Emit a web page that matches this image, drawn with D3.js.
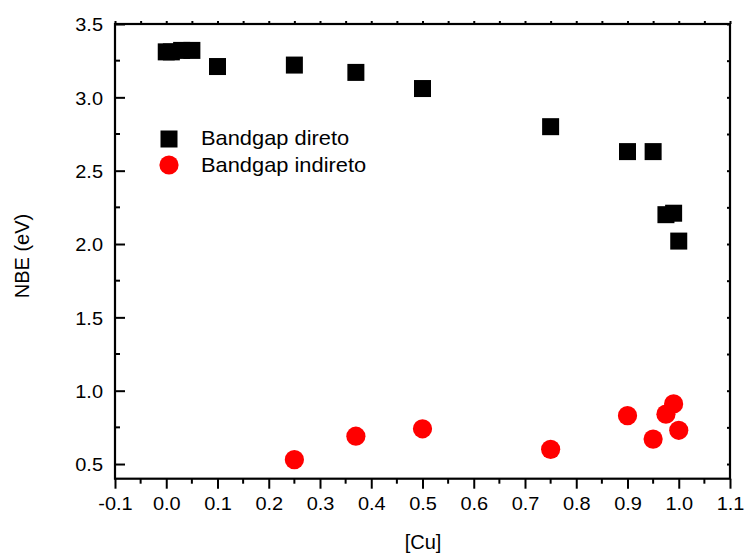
<!DOCTYPE html>
<html>
<head>
<meta charset="utf-8">
<script src="https://cdn.jsdelivr.net/npm/d3@7"></script>
<style>
  html, body { margin: 0; padding: 0; background: #fff; }
  text { font-family: "Liberation Sans", Arial, sans-serif; fill: #000; }
</style>
</head>
<body>
<svg id="chart" width="745" height="556"></svg>
<script>
// ---- data ----
const cuDireto  = [0, 0.01, 0.03, 0.05, 0.1, 0.25, 0.37, 0.5, 0.75, 0.9, 0.95, 0.975, 0.99, 1.0];
const nbeDireto = [3.31, 3.31, 3.32, 3.32, 3.21, 3.22, 3.17, 3.06, 2.80, 2.63, 2.63, 2.20, 2.21, 2.02];
const cuIndireto  = [0.25, 0.37, 0.5, 0.75, 0.9, 0.95, 0.975, 0.99, 1.0];
const nbeIndireto = [0.53, 0.69, 0.74, 0.60, 0.83, 0.67, 0.84, 0.91, 0.73];
const xTicks = [-0.1, 0.0, 0.1, 0.2, 0.3, 0.4, 0.5, 0.6, 0.7, 0.8, 0.9, 1.0, 1.1];
const yTicks = [0.5, 1.0, 1.5, 2.0, 2.5, 3.0, 3.5];
const seriesNames = ["Bandgap direto", "Bandgap indireto"];
const xTitle = "[Cu]";
const yTitle = "NBE (eV)";

// ---- layout ----
const L = 115, R = 730, T = 24, B = 478.7;
const svg = d3.select("#chart");
const x = d3.scaleLinear().domain([-0.1, 1.1]).range([L, R]);
const y = d3.scaleLinear().domain([0.4, 3.5]).range([B, T]);
const fmt = d => d3.format(".1f")(d).replace("\u2212", "-");

function stretch(sel, k) {
  sel.each(function() {
    const len = this.getComputedTextLength();
    this.setAttribute("textLength", len * k);
    this.setAttribute("lengthAdjust", "spacingAndGlyphs");
  });
}

const xMinor = d3.range(-0.05, 1.1, 0.1);
const yMinor = d3.range(0.75, 3.5, 0.5);

// bottom axis: ticks outward
const gx = svg.append("g").attr("transform", `translate(0,${B})`)
  .call(d3.axisBottom(x).tickValues(xTicks).tickFormat(fmt).tickSize(10).tickSizeOuter(0));
gx.selectAll(".tick text").attr("font-size", 19).attr("y", 31.3).attr("dy", 0);
gx.append("g").selectAll("line").data(xMinor).join("line")
  .attr("x1", d => x(d)).attr("x2", d => x(d)).attr("y1", 0).attr("y2", 5);

// left axis: ticks inward
const gy = svg.append("g").attr("transform", `translate(${L},0)`)
  .call(d3.axisLeft(y).tickValues(yTicks).tickFormat(fmt).tickSize(-10).tickSizeOuter(0).tickPadding(12));
gy.selectAll(".tick text").attr("font-size", 19).attr("dy", "0.36em");
gy.append("g").selectAll("line").data(yMinor).join("line")
  .attr("x1", 0).attr("x2", 5).attr("y1", d => y(d)).attr("y2", d => y(d));

// top axis: tiny ticks
svg.append("g").attr("transform", `translate(0,${T})`)
  .call(d3.axisTop(x).tickValues(xTicks.concat(xMinor)).tickFormat("").tickSize(3).tickSizeOuter(0));
// right axis: tiny inward ticks
svg.append("g").attr("transform", `translate(${R},0)`)
  .call(d3.axisRight(y).tickValues(yTicks.concat(yMinor)).tickFormat("").tickSize(-3).tickSizeOuter(0));

svg.selectAll(".domain").remove();
svg.selectAll("g line").attr("stroke", "#000").attr("stroke-width", 2);

// frame
svg.append("rect").attr("x", L).attr("y", T).attr("width", R - L).attr("height", B - T)
  .attr("fill", "none").attr("stroke", "#000").attr("stroke-width", 2.2);

stretch(gx.selectAll(".tick text"), 1.05);
stretch(gy.selectAll(".tick text"), 1.05);

// data marks
const S = 17;
svg.append("g").selectAll("circle").data(cuIndireto).join("circle")
  .attr("cx", d => x(d)).attr("cy", (d, i) => y(nbeIndireto[i])).attr("r", 9.6).attr("fill", "#ff0000");
svg.append("g").selectAll("rect").data(cuDireto).join("rect")
  .attr("x", d => x(d) - S / 2).attr("y", (d, i) => y(nbeDireto[i]) - S / 2)
  .attr("width", S).attr("height", S).attr("fill", "#000");

// legend
const lg = svg.append("g");
lg.append("rect").attr("x", 169 - S / 2).attr("y", 139 - S / 2).attr("width", S).attr("height", S).attr("fill", "#000");
lg.append("circle").attr("cx", 169).attr("cy", 165).attr("r", 9.6).attr("fill", "#ff0000");
const lt = lg.selectAll("text").data(seriesNames).join("text")
  .attr("x", 201).attr("y", (d, i) => 145 + i * 26.5).attr("font-size", 21).text(d => d);
stretch(lt, 1.04);

// axis titles
const xt = svg.append("text").attr("x", 423).attr("y", 549).attr("text-anchor", "middle")
  .attr("font-size", 20).text(xTitle);
svg.append("text").attr("transform", "translate(29,256) rotate(-90)").attr("text-anchor", "middle")
  .attr("font-size", 20).text(yTitle);
</script>
</body>
</html>
